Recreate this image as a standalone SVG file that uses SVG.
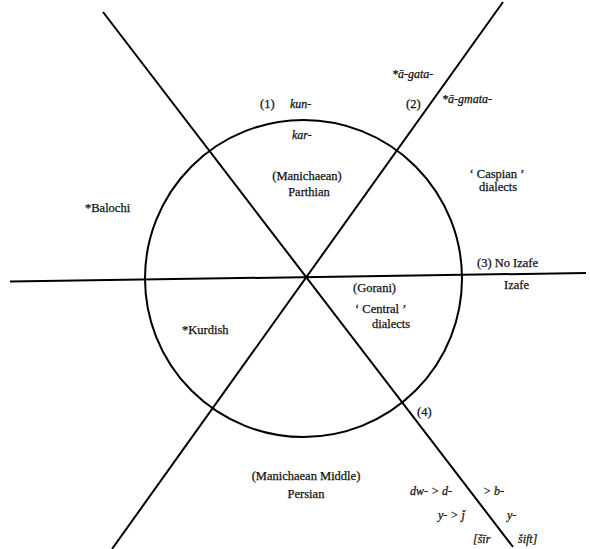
<svg xmlns="http://www.w3.org/2000/svg" width="590" height="549" viewBox="0 0 590 549">
<style>
.ln{stroke:#000;stroke-width:2;fill:none;stroke-linecap:butt}
text{font-family:"Liberation Serif","DejaVu Serif",serif;font-size:12.5px;fill:#111;stroke:#111;stroke-width:0.25}
.it{font-style:italic;font-size:12px}
.m{text-anchor:middle}
</style>
<rect width="590" height="549" fill="#fff"/>
<g id="connectors">
<circle class="ln" cx="303.5" cy="278.5" r="158.5"/>
<line class="ln" x1="10" y1="281.5" x2="586" y2="273" stroke-width="1.6"/>
<line class="ln" x1="103" y1="12" x2="513" y2="547"/>
<line class="ln" x1="503" y1="2" x2="112" y2="549"/>
</g>
<g id="isogloss1">
<text x="260" y="108">(1)</text>
<text class="it" x="290" y="108">kun-</text>
<text class="it" x="292" y="139">kar-</text>
</g>
<g id="isogloss2">
<text class="it" x="392" y="78">*ā-gata-</text>
<text x="406" y="108">(2)</text>
<text class="it" x="442" y="103">*ā-gmata-</text>
</g>
<g id="isogloss3">
<text x="477" y="267">(3)  No  Izafe</text>
<text x="504" y="289">Izafe</text>
</g>
<g id="isogloss4">
<text x="417" y="416">(4)</text>
<text class="it" x="410" y="495">dw- &gt; d-</text>
<text class="it" x="483" y="495">&gt; b-</text>
<text class="it" x="438" y="519">y- &gt; ǰ</text>
<text class="it" x="507" y="519">y-</text>
<text class="it" x="473" y="543">[šīr</text>
<text class="it" x="518" y="543">šift]</text>
</g>
<g id="parthian">
<text class="m" x="307" y="180">(Manichaean)</text>
<text class="m" x="309" y="196">Parthian</text>
</g>
<g id="caspian">
<text class="m" x="497" y="178">‘ Caspian ’</text>
<text class="m" x="498" y="191">dialects</text>
</g>
<g id="balochi">
<text x="85" y="212">*Balochi</text>
</g>
<g id="kurdish">
<text x="182" y="334">*Kurdish</text>
</g>
<g id="central">
<text x="353" y="292">(Gorani)</text>
<text x="355" y="313">‘ Central ’</text>
<text x="372" y="328">dialects</text>
</g>
<g id="persian">
<text class="m" x="306" y="480">(Manichaean Middle)</text>
<text class="m" x="306" y="498">Persian</text>
</g>
</svg>
